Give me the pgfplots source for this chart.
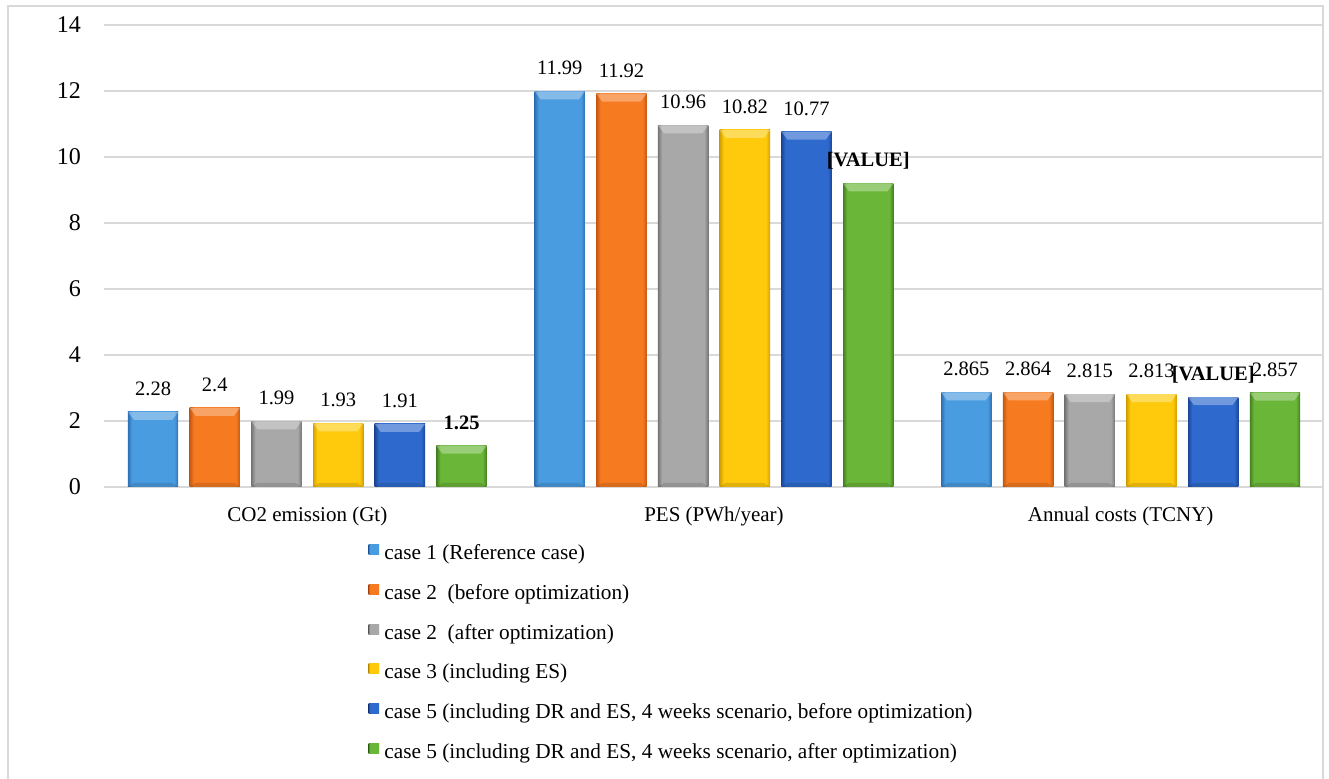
\documentclass[border=0pt]{standalone}
\usepackage{pgfplots}
\pgfplotsset{compat=1.18}
\usepackage{fontspec}
\setmainfont{Liberation Serif}

% series colours: face and darker edge
\definecolor{cA}{RGB}{74,156,224}  \definecolor{cAe}{RGB}{46,112,180}
\definecolor{cB}{RGB}{246,122,32}  \definecolor{cBe}{RGB}{196,88,18}
\definecolor{cC}{RGB}{168,168,168} \definecolor{cCe}{RGB}{118,118,118}
\definecolor{cD}{RGB}{255,202,12}  \definecolor{cDe}{RGB}{210,160,0}
\definecolor{cE}{RGB}{46,106,206}  \definecolor{cEe}{RGB}{28,70,150}
\definecolor{cF}{RGB}{106,182,56}  \definecolor{cFe}{RGB}{66,128,32}
\definecolor{gridgray}{RGB}{217,217,217}

% bevelled bar faces: darker at the left and right edges
\newcommand\barshading[1]{%
  \pgfdeclarehorizontalshading{bar#1}{100bp}{%
    color(0bp)=(c#1e); color(25bp)=(c#1e); color(29bp)=(c#1);
    color(71bp)=(c#1); color(75bp)=(c#1e); color(100bp)=(c#1e)}}
\barshading{A}\barshading{B}\barshading{C}
\barshading{D}\barshading{E}\barshading{F}

% light cap at the top of a bar and a slightly darker foot (basic layer only)
\newcommand\bbanchor[1]{\pgfpointanchor{path picture bounding box}{#1}}
\newcommand\bevelcap{%
  \pgfsetfillcolor{white}\pgfsetfillopacity{0.32}%
  \pgfpathmoveto{\bbanchor{north west}}%
  \pgfpathlineto{\bbanchor{north east}}%
  \pgfpathlineto{\pgfpointadd{\bbanchor{north east}}{\pgfpoint{-6bp}{-8bp}}}%
  \pgfpathlineto{\pgfpointadd{\bbanchor{north west}}{\pgfpoint{6bp}{-8bp}}}%
  \pgfpathclose\pgfusepath{fill}%
  \pgfsetfillcolor{black}\pgfsetfillopacity{0.12}%
  \pgfpathmoveto{\bbanchor{south west}}%
  \pgfpathlineto{\bbanchor{south east}}%
  \pgfpathlineto{\pgfpointadd{\bbanchor{south east}}{\pgfpoint{-6bp}{4bp}}}%
  \pgfpathlineto{\pgfpointadd{\bbanchor{south west}}{\pgfpoint{6bp}{4bp}}}%
  \pgfpathclose\pgfusepath{fill}}

\tikzset{bevel/.style={path picture={\bevelcap}}}

\pgfplotsset{
  sA/.style={bar shift=-0.3793},
  sB/.style={bar shift=-0.2276},
  sC/.style={bar shift=-0.0759},
  sD/.style={bar shift=0.0759},
  sE/.style={bar shift=0.2276},
  sF/.style={bar shift=0.3793},
  % one bar per \addplot, so that each face gets its own shading
  bar/.style={draw=none, shading=bar#1, bevel, s#1},
  % value labels above the bars of one series
  lab/.style={draw=none, fill=none, forget plot, s#1,
    point meta=explicit symbolic, nodes near coords},
}

\begin{document}
\begin{tikzpicture}
\useasboundingbox (0,0) rectangle (1329bp,779bp);
\fill[white] (0,0) rectangle (1329bp,779bp);
\draw[gridgray, line width=2bp] (8bp,-10bp) rectangle (1323bp,773bp);

\begin{axis}[
  scale only axis,
  width=1220bp, height=462bp,
  at={(104bp,292bp)}, anchor=south west,
  xmin=-0.5, xmax=2.5,
  ymin=0, ymax=14,
  ytick={0,2,...,14},
  xtick={0,1,2},
  xticklabels={CO2 emission (Gt), PES (PWh/year), Annual costs (TCNY)},
  ymajorgrids,
  grid style={draw=gridgray, line width=1.5bp},
  axis line style={draw=none},
  major tick length=0pt,
  /pgf/number format/assume math mode=true,
  yticklabel style={font=\fontsize{24bp}{28bp}\selectfont, inner sep=0pt, anchor=east, xshift=-23bp},
  xticklabel style={font=\fontsize{21bp}{25bp}\selectfont, inner sep=0pt, anchor=base, yshift=-34bp},
  clip=false,
  ybar,
  bar width=0.1237,
  every node near coord/.append style={anchor=base, yshift=16.5bp,
     font=\fontsize{20.5bp}{24bp}\selectfont, text=black},
  legend style={draw=none, fill=none, inner sep=0pt, outer sep=0pt,
     at={(axis description cs:0.2170,-0.1245)}, anchor=north west,
     font=\fontsize{21.3bp}{25bp}\selectfont,
     row sep=20.8bp,
     nodes={inner sep=0pt, text height=15bp, text depth=4bp}},
  legend cell align=left,
  legend image code/.code={%
     \path[#1,draw=none,path picture={}] (0bp,-0.5bp) rectangle (10.5bp,9.5bp);
     \path (15.7bp,0bp);},
]
% case 1 (Reference case)
\addplot[bar=A] coordinates {(0,2.28)};
\addlegendentry{case 1 (Reference case)}
\addplot[bar=A, forget plot] coordinates {(1,11.99)};
\addplot[bar=A, forget plot] coordinates {(2,2.865)};
% case 2 before optimization
\addplot[bar=B] coordinates {(0,2.4)};
\addlegendentry{case 2\ \ (before optimization)}
\addplot[bar=B, forget plot] coordinates {(1,11.92)};
\addplot[bar=B, forget plot] coordinates {(2,2.864)};
% case 2 after optimization
\addplot[bar=C] coordinates {(0,1.99)};
\addlegendentry{case 2\ \ (after optimization)}
\addplot[bar=C, forget plot] coordinates {(1,10.96)};
\addplot[bar=C, forget plot] coordinates {(2,2.815)};
% case 3 including ES
\addplot[bar=D] coordinates {(0,1.93)};
\addlegendentry{case 3 (including ES)}
\addplot[bar=D, forget plot] coordinates {(1,10.82)};
\addplot[bar=D, forget plot] coordinates {(2,2.813)};
% case 5 before optimization
\addplot[bar=E] coordinates {(0,1.91)};
\addlegendentry{case 5 (including DR and ES, 4 weeks scenario, before optimization)}
\addplot[bar=E, forget plot] coordinates {(1,10.77)};
\addplot[bar=E, forget plot] coordinates {(2,2.72)};
% case 5 after optimization
\addplot[bar=F] coordinates {(0,1.25)};
\addlegendentry{case 5 (including DR and ES, 4 weeks scenario, after optimization)}
\addplot[bar=F, forget plot] coordinates {(1,9.2)};
\addplot[bar=F, forget plot] coordinates {(2,2.857)};

% value labels
\addplot[lab=A] coordinates {(0,2.28) [2.28] (1,11.99) [11.99] (2,2.865) [2.865]};
\addplot[lab=B] coordinates {(0,2.4) [2.4] (1,11.92) [11.92] (2,2.864) [2.864]};
\addplot[lab=C] coordinates {(0,1.99) [1.99] (1,10.96) [10.96] (2,2.815) [2.815]};
\addplot[lab=D] coordinates {(0,1.93) [1.93] (1,10.82) [10.82] (2,2.813) [2.813]};
\addplot[lab=E] coordinates {(0,1.91) [1.91] (1,10.77) [10.77] (2,2.72) [{\textbf{[VALUE]}}]};
\addplot[lab=F] coordinates {(0,1.25) [{\textbf{1.25}}] (1,9.2) [{\textbf{[VALUE]}}] (2,2.857) [2.857]};
\end{axis}
\end{tikzpicture}
\end{document}
